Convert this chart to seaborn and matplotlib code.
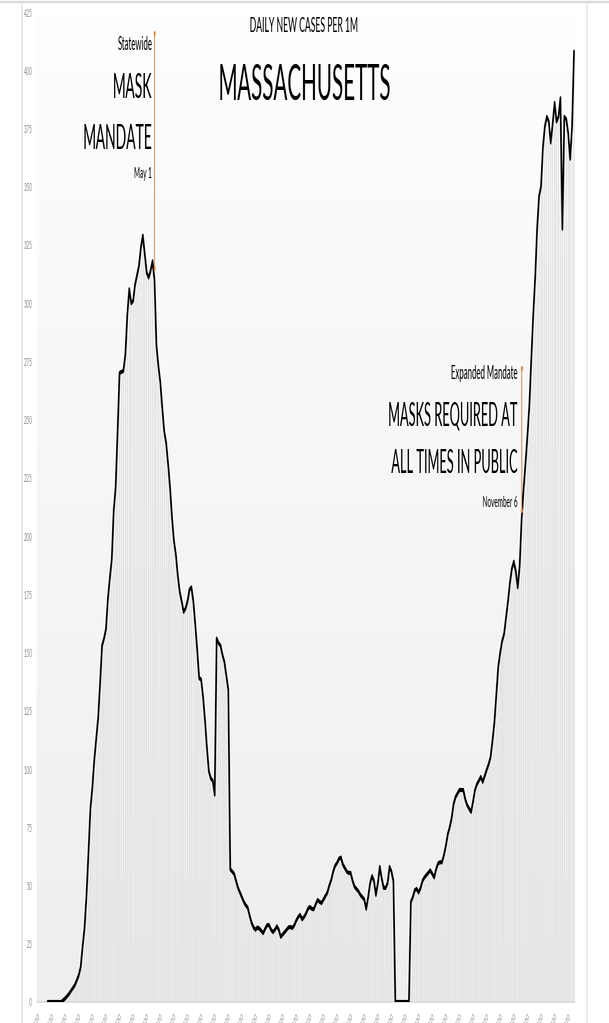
import numpy as np
import pandas as pd
import matplotlib
matplotlib.use("Agg")
import matplotlib.pyplot as plt
from matplotlib.lines import Line2D
from matplotlib.colors import LinearSegmentedColormap
import seaborn as sns
from PIL import Image

# Final image size; the chart is laid out wide and then squeezed horizontally
OUT_W, OUT_H = 609, 1023
SQUEEZE = 0.40
BIG_W = int(round(OUT_W / SQUEEZE))

# ---------------------------------------------------------------- data
start_date = pd.Timestamp("2020-03-01")
days = list(range(1, 278))          # day 1 = Mar 2, 2020 ... day 277 = Dec 3, 2020

nan = float("nan")
cases_per_1m = (
    [nan] * 5 +                                                        # 1-5
    [0] * 8 +                                                          # 6-13
    [0.8, 1.5, 2.5, 3.5, 4.8, 6, 7.3, 9.3, 11.5, 15] +                 # 14-23
    [24, 32, 46, 64, 83, 92, 104, 113, 122, 137] +                     # 24-33
    [153, 156, 160, 173, 182, 190, 211, 221, 245, 270] +               # 34-43
    [270.5, 271, 278, 295, 306, 300, 301, 308, 312, 316] +             # 44-53
    [324, 329, 321, 313, 311, 314, 318, 310, 282, 273] +               # 54-63
    [266, 255, 245, 240, 231, 221, 208, 198, 192, 183] +               # 64-73
    [176, 172, 167.5, 169, 172, 177, 178, 172, 162, 151] +             # 74-83
    [139, 138.5, 131, 121, 109, 99, 96, 95, 89, 156] +                 # 84-93
    [154, 153, 149, 146, 140, 134, 57, 56, 55, 52] +                   # 94-103
    [49, 47, 45, 43, 41.5, 40.5, 37, 34, 32, 31] +                     # 104-113
    [32, 31.5, 30.5, 29.6, 31.5, 33, 33, 31, 30, 31] +                 # 114-123
    [32.5, 31, 28, 29, 30, 31, 32, 32.2, 31.8, 33] +                   # 124-133
    [35, 36.5, 37.4, 35.5, 36.5, 38, 40, 40.8, 40, 39.8] +             # 134-143
    [42, 43.8, 43, 42.5, 44, 45.5, 47, 50, 52.4, 56] +                 # 144-153
    [58.5, 59.7, 61.5, 62, 59, 57.5, 56, 55.4, 55.4, 52] +             # 154-163
    [49.5, 48.5, 47.5, 46, 45, 44, 40, 45, 51, 54] +                   # 164-173
    [52, 46, 51, 58, 53, 49, 49, 51, 58, 56] +                         # 174-183
    [52] + [0] * 8 + [43] +                                            # 184-193
    [45, 48, 48.5, 47, 49, 52, 53.5, 54.5, 55.5, 56.5] +               # 194-203
    [55, 53.5, 57, 59.5, 60, 60, 63, 67, 72, 75] +                     # 204-213
    [79, 85, 88, 89.5, 91, 91, 91, 87, 84.5, 83] +                     # 214-223
    [81.6, 86, 91, 93.5, 95, 96.6, 94.5, 97, 99.6, 102] +              # 224-233
    [105, 112, 120, 132, 144, 150, 155, 158, 165, 172] +               # 234-243
    [180, 186, 189, 185, 178, 187, 207, 220, 231, 243] +               # 244-253
    [256, 276, 295, 311, 332, 346, 350, 367, 376, 380] +               # 254-263
    [378, 369, 377, 386, 378, 380, 388, 332, 380, 379] +               # 264-273
    [373, 362, 376, 408]                                               # 274-277
)
assert len(cases_per_1m) == len(days)

y_ticks = list(range(0, 426, 25))
week_days = list(range(1, 278, 7))
week_labels = [(start_date + pd.Timedelta(days=d)).strftime("%-m/%-d/%Y") for d in week_days]

# mask-mandate markers: day, lower and upper end of the drop line
mandate_days = [61, 250]
mandate_low = [315, 211]
mandate_high = [416, 272]

# ---------------------------------------------------------------- style
sns.set_style("white")
plt.rcParams["font.family"] = ["Lato", "DejaVu Sans"]
HEAVY = ["Lato Medium", "Lato", "DejaVu Sans"]

ORANGE = "#ED7D31"
GREY_TXT = "#8c8c8c"
INK = "#000000"

fig = plt.figure(figsize=(BIG_W / 100, OUT_H / 100), dpi=100)
fig.patch.set_facecolor("white")

ax = fig.add_axes([37 / OUT_W, 1 - 1002 / OUT_H, (575 - 37) / OUT_W, (1002 - 12) / OUT_H])
ax.set_xlim(0.5, 277.5)
ax.set_ylim(0, 425)

# soft vertical gradient behind the plot area: near white on top, light grey at the base
grad = np.linspace(0, 1, 256)[:, None]
cmap = LinearSegmentedColormap.from_list("bg", ["#fefefe", "#eeeeee"])
ax.imshow(grad, extent=[0.5, 277.5, 0, 425], aspect="auto", cmap=cmap,
          zorder=0, origin="upper")

df = pd.DataFrame({"day": days, "cases": cases_per_1m})
bar_vals = df["cases"].fillna(0)
ax.bar(df["day"], bar_vals, width=0.62, color="#e2e2e2", linewidth=0, zorder=1)

sns.lineplot(data=df.dropna(), x="day", y="cases", color="black", linewidth=3.0,
             estimator=None, ax=ax, zorder=3, solid_joinstyle="round")

for d, lo, hi in zip(mandate_days, mandate_low, mandate_high):
    ax.plot([d, d], [lo, hi], color=ORANGE, linewidth=1.5, marker="o",
            markersize=3.5, markeredgewidth=0, zorder=4)

ax.set_xlabel("")
ax.set_ylabel("")
ax.set_yticks(y_ticks)
ax.set_yticklabels([str(v) for v in y_ticks])
ax.set_xticks(week_days)
ax.set_xticklabels(week_labels, rotation=45, ha="right", rotation_mode="anchor")
ax.tick_params(axis="y", length=0, pad=9, labelsize=8.5, labelcolor=GREY_TXT)
ax.tick_params(axis="x", length=0, pad=7, labelsize=7, labelcolor=GREY_TXT)
for side in ["left", "right", "top"]:
    ax.spines[side].set_visible(False)
ax.spines["bottom"].set_color("#d9d9d9")
ax.spines["bottom"].set_linewidth(1.2)
ax.grid(False)

# chart-area frame
frame_kw = dict(transform=fig.transFigure, color="#d9d9d9", linewidth=1.6)
fig.add_artist(Line2D([0, 1], [1 - 2 / OUT_H] * 2, **frame_kw))
fig.add_artist(Line2D([22 / OUT_W] * 2, [0, 1 - 2 / OUT_H], **frame_kw))
fig.add_artist(Line2D([587 / OUT_W] * 2, [0, 1 - 2 / OUT_H], **frame_kw))

# titles
fig.text(304 / OUT_W, 1 - 32 / OUT_H, "DAILY NEW CASES PER 1M", ha="center",
         va="baseline", fontsize=15.5, color=INK, family=HEAVY)
fig.text(304.5 / OUT_W, 1 - 100 / OUT_H, "MASSACHUSETTS", ha="center",
         va="baseline", fontsize=37, color=INK, family=HEAVY)

# annotations beside the mandate markers
left_x, right_x = 59.7, 247.9
note_kw = dict(ha="right", va="baseline", color=INK, zorder=5, family=HEAVY)
ax.text(left_x, 408.8, "Statewide", fontsize=14, **note_kw)
ax.text(left_x, 388, "MASK", fontsize=25, **note_kw)
ax.text(left_x, 366, "MANDATE", fontsize=25, **note_kw)
ax.text(left_x, 353.8, "May 1", fontsize=11.5, **note_kw)

ax.text(right_x, 267.4, "Expanded Mandate", fontsize=14, **note_kw)
ax.text(right_x, 247.3, "MASKS REQUIRED AT", fontsize=23, **note_kw)
ax.text(right_x, 227.3, "ALL TIMES IN PUBLIC", fontsize=23, **note_kw)
ax.text(right_x, 212.7, "November 6", fontsize=11.5, **note_kw)

# render wide, then squeeze to the final narrow format
fig.canvas.draw()
rgba = np.asarray(fig.canvas.buffer_rgba())
Image.fromarray(rgba).convert("RGB").resize((OUT_W, OUT_H), Image.LANCZOS).save("out.png")
